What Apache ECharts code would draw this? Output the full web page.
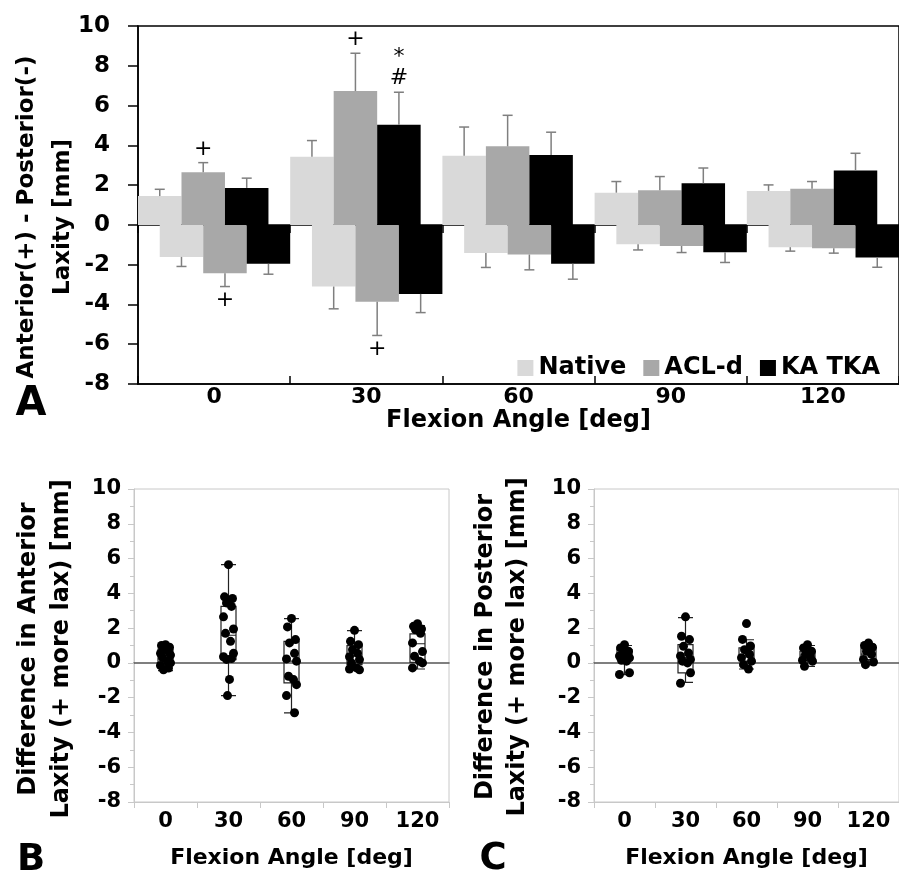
<!DOCTYPE html>
<html><head><meta charset="utf-8">
<script src="https://cdn.jsdelivr.net/npm/echarts@6/dist/echarts.min.js"></script>
<style>html,body{margin:0;padding:0;background:#fff}#c{width:899px;height:873px}</style>
</head><body><div id="c"></div>
<script>
// ---------- DATA ----------
const angles = ['0', '30', '60', '90', '120'];
const yTicks = [-8, -6, -4, -2, 0, 2, 4, 6, 8, 10];

// Panel A: mean laxity (mm) and SD
const nativeAnt   = [1.45, 3.43, 3.47, 1.62, 1.71];
const nativeAntSD = [0.34, 0.81, 1.45, 0.56, 0.30];
const aclAnt      = [2.65, 6.73, 3.95, 1.74, 1.82];
const aclAntSD    = [0.48, 1.90, 1.56, 0.69, 0.36];
const kaAnt       = [1.86, 5.04, 3.52, 2.09, 2.73];
const kaAntSD     = [0.49, 1.63, 1.14, 0.77, 0.87];
const nativePost   = [-1.61, -3.10, -1.41, -0.97, -1.12];
const nativePostSD = [0.48, 1.12, 0.73, 0.29, 0.20];
const aclPost      = [-2.43, -3.87, -1.49, -1.06, -1.17];
const aclPostSD    = [0.67, 1.69, 0.77, 0.33, 0.25];
const kaPost       = [-1.96, -3.47, -1.96, -1.37, -1.64];
const kaPostSD     = [0.52, 0.94, 0.77, 0.52, 0.49];
// significance marks
const aclAntMarks  = ['+', '+', '', '', ''];
const kaAntMarks   = ['', '*\n#', '', '', ''];
const aclPostMarks = ['+', '+', '', '', ''];
const noMarks      = ['', '', '', '', ''];

// Panel B: difference in anterior laxity (KA TKA - native), per knee
const antDiff0   = [1.05, 1.0, 0.9, 0.8, 0.65, 0.55, 0.45, 0.3, 0.1, 0.0, -0.15, -0.3, -0.4];
const antDiff30  = [5.65, 3.8, 3.7, 3.45, 3.25, 2.65, 1.95, 1.7, 1.24, 0.55, 0.35, 0.25, 0.2, -0.95, -1.88];
const antDiff60  = [2.55, 2.07, 1.34, 1.15, 0.55, 0.23, 0.1, -0.77, -0.96, -1.25, -1.88, -2.87];
const antDiff90  = [1.87, 1.24, 1.05, 0.76, 0.55, 0.35, 0.19, 0.0, -0.29, -0.4, -0.35];
const antDiff120 = [2.25, 2.1, 1.95, 1.9, 1.7, 1.15, 0.65, 0.38, 0.1, 0.0, -0.29];
// box stats [min, Q1, median, Q3, max]
const antBox = [
  [-0.45, -0.1, 0.45, 0.8, 0.95],
  [-1.88, 0.19, 1.59, 3.25, 5.65],
  [-2.87, -1.15, 0.1, 1.24, 2.55],
  [-0.4, -0.1, 0.4, 0.99, 1.85],
  [-0.35, 0.03, 1.1, 1.67, 2.15]
];

// Panel C: difference in posterior laxity
const postDiff0   = [1.05, 0.86, 0.67, 0.52, 0.45, 0.4, 0.29, 0.15, 0.1, -0.57, -0.67];
const postDiff30  = [2.65, 1.53, 1.34, 0.95, 0.57, 0.4, 0.2, 0.1, 0.0, -0.57, -1.17];
const postDiff60  = [2.26, 1.35, 0.97, 0.76, 0.5, 0.3, 0.1, -0.1, -0.35];
const postDiff90  = [1.05, 0.86, 0.67, 0.5, 0.3, 0.15, 0.1, -0.2];
const postDiff120 = [1.15, 1.0, 0.9, 0.67, 0.5, 0.2, 0.05, -0.1];
const postBox = [
  [-0.67, 0.19, 0.5, 0.76, 1.0],
  [-1.12, -0.57, 0.3, 1.05, 2.6],
  [-0.35, 0.11, 0.4, 0.86, 1.33],
  [-0.2, 0.15, 0.45, 0.67, 1.0],
  [-0.1, 0.19, 0.5, 0.86, 1.05]
];

// ---------- STYLE / LAYOUT ----------
const FF = 'DejaVu Sans';
const C_NATIVE = '#d9d9d9', C_ACL = '#a8a8a8', C_KA = '#000000';
const ERR = '#7f7f7f';
const LIGHT = '#c8c8c8';

function barSeries(name, data, color) {
  return {
    type: 'bar', name: name, data: data, xAxisIndex: 0, yAxisIndex: 0,
    barWidth: '28.57%', barGap: '-50%', itemStyle: { color: color },
    silent: true, z: 2
  };
}

// slot = order of the bar within its category (0..5)
function errSeries(slot, means, sds, marks, dir) {
  return {
    type: 'custom', xAxisIndex: 0, yAxisIndex: 0, z: 5, silent: true,
    data: means.map((m, i) => [i, m, sds[i]]),
    renderItem: function (params, api) {
      const cat = api.value(0), m = api.value(1), sd = api.value(2);
      const band = api.size([1, 0])[0];
      const w = band / 3.5;
      const cx = api.coord([cat, 0])[0] + (slot * 0.5 - 1.25) * w;
      const y0 = api.coord([cat, m])[1];
      const y1 = api.coord([cat, m + dir * sd])[1];
      const cap = 5;
      const children = [
        { type: 'line', shape: { x1: cx, y1: y0, x2: cx, y2: y1 }, style: { stroke: ERR, lineWidth: 1.5 } },
        { type: 'line', shape: { x1: cx - cap, y1: y1, x2: cx + cap, y2: y1 }, style: { stroke: ERR, lineWidth: 1.5 } }
      ];
      const mark = marks[params.dataIndex];
      if (mark) {
        children.push({
          type: 'text', x: cx, y: y1 + (dir > 0 ? -3 : 3),
          style: { text: mark, fill: '#000', fontSize: 22, fontFamily: FF, fontWeight: 'normal',
                   align: 'center', verticalAlign: dir > 0 ? 'bottom' : 'top', lineHeight: 21 }
        });
      }
      return { type: 'group', children: children };
    }
  };
}

const jitter = [0, -4, 4, -2, 3, -5, 5, -3, 2, 5, -5, 3, -2, 1, -1];
function dotSeries(xi, yi, groups) {
  const data = [];
  groups.forEach((vals, c) => vals.forEach((v, k) => data.push([c, v, k])));
  return {
    type: 'custom', xAxisIndex: xi, yAxisIndex: yi, z: 6, silent: true, data: data,
    renderItem: function (params, api) {
      const pt = api.coord([api.value(0), api.value(1)]);
      const j = jitter[api.value(2) % jitter.length];
      return { type: 'circle', shape: { cx: pt[0] + j, cy: pt[1], r: 4.5 }, style: { fill: '#000' } };
    }
  };
}

function boxSeries(xi, yi, data) {
  return {
    type: 'boxplot', xAxisIndex: xi, yAxisIndex: yi, data: data, boxWidth: [15, 15],
    itemStyle: { color: 'rgba(255,255,255,0)', borderColor: '#222', borderWidth: 1.2 },
    silent: true, z: 4
  };
}

const boldLabel = (size, margin) => ({ fontSize: size, fontWeight: 'bold', fontFamily: FF, color: '#000', margin: margin });

const chart = echarts.init(document.getElementById('c'), null, { renderer: 'canvas' });
chart.setOption({
  animation: false,
  backgroundColor: '#fff',
  grid: [
    { left: 138, top: 26, width: 765, height: 358, show: true, borderColor: '#000', borderWidth: 1.5 },
    { left: 134, top: 489, width: 315, height: 313, show: true, borderColor: LIGHT, borderWidth: 1 },
    { left: 594, top: 489, width: 313, height: 313, show: true, borderColor: LIGHT, borderWidth: 1 }
  ],
  legend: {
    data: ['Native', 'ACL-d', 'KA TKA'], right: 19, top: 356, padding: 0,
    itemWidth: 16, itemHeight: 16, itemGap: 17, icon: 'rect', selectedMode: false,
    textStyle: { fontSize: 24, fontWeight: 'bold', fontFamily: FF, color: '#000' }
  },
  xAxis: [
    { gridIndex: 0, type: 'category', data: angles, position: 'bottom',
      axisLine: { show: true, onZero: true, lineStyle: { color: '#000', width: 1.5 } },
      axisTick: { show: true, length: 8, lineStyle: { color: '#000', width: 1.5 } },
      axisLabel: { show: false } },
    { gridIndex: 0, type: 'category', data: angles, position: 'bottom',
      axisLine: { show: true, onZero: true, lineStyle: { color: '#000', width: 1.5 } },
      axisTick: { show: true, inside: true, length: 8, lineStyle: { color: '#000', width: 1.5 } },
      axisLabel: { show: false } },
    { gridIndex: 0, type: 'category', data: angles, position: 'bottom',
      axisLine: { show: false, onZero: false }, axisTick: { show: false },
      axisLabel: Object.assign(boldLabel(22, 2), { interval: 0 }),
      name: 'Flexion Angle [deg]', nameLocation: 'middle', nameGap: 22,
      nameTextStyle: { fontSize: 24, fontWeight: 'bold', fontFamily: FF, color: '#000' } },
    { gridIndex: 1, type: 'category', data: angles, position: 'bottom',
      axisLine: { show: true, onZero: false, lineStyle: { color: LIGHT, width: 1 } },
      axisTick: { show: true, length: 6, lineStyle: { color: LIGHT, width: 1 } },
      axisLabel: Object.assign(boldLabel(21, 9), { interval: 0 }),
      name: 'Flexion Angle [deg]', nameLocation: 'middle', nameGap: 45,
      nameTextStyle: { fontSize: 22, fontWeight: 'bold', fontFamily: FF, color: '#000' } },
    { gridIndex: 1, type: 'category', data: angles, position: 'bottom',
      axisLine: { show: true, onZero: true, lineStyle: { color: '#555', width: 1.5 } },
      axisTick: { show: false }, axisLabel: { show: false } },
    { gridIndex: 2, type: 'category', data: angles, position: 'bottom',
      axisLine: { show: true, onZero: false, lineStyle: { color: LIGHT, width: 1 } },
      axisTick: { show: true, length: 6, lineStyle: { color: LIGHT, width: 1 } },
      axisLabel: Object.assign(boldLabel(21, 9), { interval: 0 }),
      name: 'Flexion Angle [deg]', nameLocation: 'middle', nameGap: 45,
      nameTextStyle: { fontSize: 22, fontWeight: 'bold', fontFamily: FF, color: '#000' } },
    { gridIndex: 2, type: 'category', data: angles, position: 'bottom',
      axisLine: { show: true, onZero: true, lineStyle: { color: '#555', width: 1.5 } },
      axisTick: { show: false }, axisLabel: { show: false } }
  ],
  yAxis: [
    { gridIndex: 0, type: 'value', min: yTicks[0], max: yTicks[yTicks.length - 1], interval: 2,
      axisLine: { show: true, lineStyle: { color: '#000', width: 1.5 } },
      axisTick: { show: true, length: 10, lineStyle: { color: '#000', width: 1.5 } },
      axisLabel: boldLabel(23, 28), splitLine: { show: false } },
    { gridIndex: 1, type: 'value', min: yTicks[0], max: yTicks[yTicks.length - 1], interval: 2,
      axisLine: { show: true, lineStyle: { color: LIGHT, width: 1 } },
      axisTick: { show: true, length: 6, lineStyle: { color: LIGHT, width: 1 } },
      minorTick: { show: true, splitNumber: 2, length: 4, lineStyle: { color: LIGHT, width: 1 } },
      axisLabel: boldLabel(21, 13), splitLine: { show: false } },
    { gridIndex: 2, type: 'value', min: yTicks[0], max: yTicks[yTicks.length - 1], interval: 2,
      axisLine: { show: true, lineStyle: { color: LIGHT, width: 1 } },
      axisTick: { show: true, length: 6, lineStyle: { color: LIGHT, width: 1 } },
      minorTick: { show: true, splitNumber: 2, length: 4, lineStyle: { color: LIGHT, width: 1 } },
      axisLabel: boldLabel(21, 13), splitLine: { show: false } }
  ],
  series: [
    barSeries('Native', nativeAnt, C_NATIVE),
    barSeries('Native', nativePost, C_NATIVE),
    barSeries('ACL-d', aclAnt, C_ACL),
    barSeries('ACL-d', aclPost, C_ACL),
    barSeries('KA TKA', kaAnt, C_KA),
    barSeries('KA TKA', kaPost, C_KA),
    errSeries(0, nativeAnt, nativeAntSD, noMarks, 1),
    errSeries(1, nativePost, nativePostSD, noMarks, -1),
    errSeries(2, aclAnt, aclAntSD, aclAntMarks, 1),
    errSeries(3, aclPost, aclPostSD, aclPostMarks, -1),
    errSeries(4, kaAnt, kaAntSD, kaAntMarks, 1),
    errSeries(5, kaPost, kaPostSD, noMarks, -1),
    boxSeries(3, 1, antBox),
    dotSeries(3, 1, [antDiff0, antDiff30, antDiff60, antDiff90, antDiff120]),
    boxSeries(5, 2, postBox),
    dotSeries(5, 2, [postDiff0, postDiff30, postDiff60, postDiff90, postDiff120])
  ],
  graphic: [
    { type: 'text', x: 45, y: 217, rotation: Math.PI / 2, silent: true,
      style: { text: 'Anterior(+) - Posterior(-)\nLaxity [mm]', fill: '#000', fontSize: 23, fontWeight: 'bold',
               fontFamily: FF, align: 'center', verticalAlign: 'middle', lineHeight: 36 } },
    { type: 'text', x: 45, y: 649, rotation: Math.PI / 2, silent: true,
      style: { text: 'Difference in Anterior\nLaxity (+ more lax) [mm]', fill: '#000', fontSize: 24, fontWeight: 'bold',
               fontFamily: FF, align: 'center', verticalAlign: 'middle', lineHeight: 33 } },
    { type: 'text', x: 502, y: 647, rotation: Math.PI / 2, silent: true,
      style: { text: 'Difference in Posterior\nLaxity (+ more lax) [mm]', fill: '#000', fontSize: 24, fontWeight: 'bold',
               fontFamily: FF, align: 'center', verticalAlign: 'middle', lineHeight: 32 } },
    { type: 'text', x: 31, y: 405, silent: true,
      style: { text: 'A', fill: '#000', fontSize: 40, fontWeight: 'bold', fontFamily: FF, align: 'center', verticalAlign: 'middle' } },
    { type: 'text', x: 31, y: 860, silent: true,
      style: { text: 'B', fill: '#000', fontSize: 37, fontWeight: 'bold', fontFamily: FF, align: 'center', verticalAlign: 'middle' } },
    { type: 'text', x: 493, y: 859, silent: true,
      style: { text: 'C', fill: '#000', fontSize: 37, fontWeight: 'bold', fontFamily: FF, align: 'center', verticalAlign: 'middle' } }
  ]
});
</script>
</body></html>
